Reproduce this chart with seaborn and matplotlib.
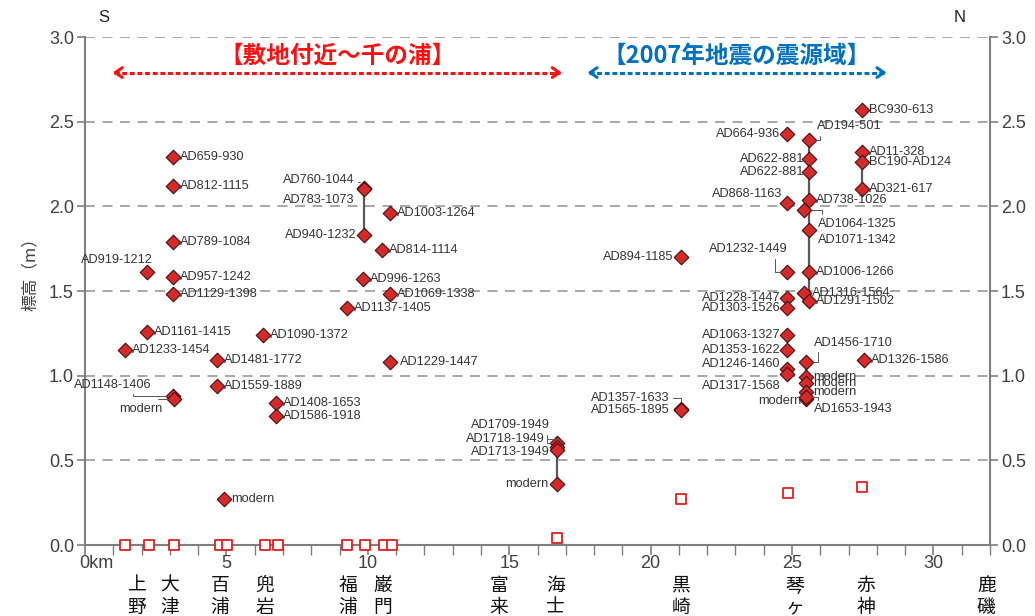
import numpy as np
import pandas as pd
import seaborn as sns
import matplotlib.pyplot as plt
from matplotlib import transforms

# --- data: distance along coast (km), elevation (m), age label, core group ---
pt_km = [3.11, 3.11, 3.11, 2.19, 3.11, 3.11, 2.19, 1.41, 4.66, 3.11, 3.13, 4.66, 6.29, 6.75, 6.75, 4.92,
         9.86, 9.86, 9.86, 10.78, 10.49, 9.82, 10.78, 9.26, 10.78,
         16.68, 16.68, 16.68, 16.68,
         21.06, 21.06, 21.06,
         24.83, 25.60, 25.60, 25.60, 24.83, 25.60, 25.42, 25.60, 24.83, 25.60, 25.42, 24.83, 25.60, 24.83,
         24.83, 24.83, 25.48, 24.83, 24.83, 25.48, 25.48, 25.48, 25.48, 25.48,
         27.49, 27.49, 27.49, 27.49, 27.55]
pt_elev = [2.29, 2.12, 1.79, 1.61, 1.58, 1.48, 1.26, 1.15, 1.09, 0.88, 0.865, 0.94, 1.24, 0.84, 0.76, 0.27,
           2.11, 2.10, 1.83, 1.96, 1.74, 1.57, 1.48, 1.40, 1.08,
           0.60, 0.58, 0.56, 0.36,
           1.70, 0.805, 0.795,
           2.43, 2.39, 2.28, 2.20, 2.02, 2.04, 1.98, 1.86, 1.61, 1.61, 1.49, 1.46, 1.44, 1.40,
           1.24, 1.15, 1.08, 1.04, 1.01, 0.99, 0.955, 0.905, 0.86, 0.875,
           2.57, 2.32, 2.26, 2.10, 1.09]
pt_age = ["AD659-930", "AD812-1115", "AD789-1084", "AD919-1212", "AD957-1242", "AD1129-1398",
          "AD1161-1415", "AD1233-1454", "AD1481-1772", "AD1148-1406", "modern", "AD1559-1889",
          "AD1090-1372", "AD1408-1653", "AD1586-1918", "modern",
          "AD760-1044", "AD783-1073", "AD940-1232", "AD1003-1264", "AD814-1114", "AD996-1263",
          "AD1069-1338", "AD1137-1405", "AD1229-1447",
          "AD1709-1949", "AD1718-1949", "AD1713-1949", "modern",
          "AD894-1185", "AD1357-1633", "AD1565-1895",
          "AD664-936", "AD194-501", "AD622-881", "AD622-881", "AD868-1163", "AD738-1026",
          "AD1064-1325", "AD1071-1342", "AD1232-1449", "AD1006-1266", "AD1316-1564",
          "AD1228-1447", "AD1291-1502", "AD1303-1526",
          "AD1063-1327", "AD1353-1622", "AD1456-1710", "AD1246-1460", "AD1317-1568",
          "modern", "modern", "modern", "modern", "AD1653-1943",
          "BC930-613", "AD11-328", "BC190-AD124", "AD321-617", "AD1326-1586"]
pt_core = [""] * 16 + ["A", "A", "A"] + [""] * 6 + ["B", "B", "B", "B"] + [""] * 3 + \
          ["", "C", "C", "C", "", "C", "", "C", "", "C", "C", "", "", ""] + \
          ["", "", "E", "", "", "E", "E", "E", "E", "E"] + ["", "D", "D", "D", ""]

# modern surface (open squares)
sq_km = [1.43, 2.25, 3.13, 4.76, 5.02, 6.38, 6.81, 9.28, 9.91, 10.58, 10.86, 16.68, 21.06, 24.84, 27.49]
sq_elev = [0, 0, 0, 0, 0, 0, 0, 0, 0, 0, 0, 0.04, 0.27, 0.31, 0.34]

place_names = ["上野", "大津", "百浦", "兜岩", "福浦", "巌門", "富来", "海士", "黒崎", "琴ヶ浜", "赤神", "鹿磯"]
place_km = [1.84, 3.0, 4.77, 6.36, 9.29, 10.53, 14.63, 16.64, 21.06, 25.09, 27.6, 31.87]

region_names = ["【敷地付近～千の浦】", "【2007年地震の震源域】"]
region_start = [0.88, 17.67]
region_end = [16.96, 28.44]
region_colors = ["#ff1010", "#0070c0"]

# label placement: px offset from point, alignment, leader (relpos, angleA, angleB) or None
R = (7, 0, "left", None)
L = (-7, 0, "right", None)
down_r = ((0.85, 0), 90, 0)      # leader leaves text bottom-right, goes down then across
down_l = ((0.05, 0), 90, 0)      # leader leaves text bottom-left
up_r = ((0.9, 1), 90, 0)
up_l = ((0.05, 1), 90, 0)
layout = [R, R, R, (6, 12, "right", None), R, R, R, R, R,
          (-21, 11, "right", ((0.75, 0), 90, 0)), (-11, -10, "right", up_r),
          R, R, R, R, R,
          (-9, 8, "right", ((1, 0.3), 0, 90)), (-9, -11, "right", None), (-7, 0, "right", None),
          R, R, R, R, R, (10, 0, "left", None),
          (-7, 18, "right", ((0.97, 0), 90, 0)), (-12, 8, "right", ((1, 0.5), 0, 90)),
          (-7, -2, "right", None), (-8, 0, "right", None),
          L, (-11, 11, "right", ((1, 0.5), 0, 90)), (-11, 0, "right", None),
          L, (8, 14, "left", down_l), (-5, 0, "right", None), (-5, 0, "right", None),
          (-5, 9, "right", ((0.95, 0), 90, 0)), R,
          (14, -14, "left", up_l), (9, -10, "left", None), (0, 23, "right", down_r), R, (8, 0, "left", None),
          L, R, L,
          L, L, (8, 19, "left", down_l), (-7, 5, "right", None), (-7, -12, "right", None),
          (8, 0, "left", None), (8, 0, "left", None), (8, 0, "left", None), (-4, -2, "right", None),
          (8, -12, "left", up_l),
          R, R, R, R, R]

pts = pd.DataFrame({"km": pt_km, "elev": pt_elev, "age": pt_age, "core": pt_core})
sq = pd.DataFrame({"km": sq_km, "elev": sq_elev})

sns.set_style("ticks")
plt.rcParams['font.family'] = ['Liberation Sans', 'Noto Sans CJK JP', 'DejaVu Sans']
cjk = ['Noto Sans CJK JP', 'DejaVu Sans']
grey = "#7f7f7f"

fig = plt.figure(figsize=(10.35, 6.16), dpi=100)
ax = fig.add_axes([85 / 1035, 71 / 616, 905 / 1035, 508 / 616])
ax.set_xlim(0, 32)
ax.set_ylim(0, 3.0)

# dashed grid
for yv in np.arange(0.5, 3.01, 0.5):
    ax.axhline(yv, color="#9a9a9a", lw=1.2, ls=(0, (6, 4.5)), zorder=1)

# core connecting lines
for name, g in pts[pts.core != ""].groupby("core"):
    ax.vlines(g.km.iloc[0], g.elev.min(), g.elev.max(), color="#5a5a5a", lw=1.6, zorder=2)

sns.scatterplot(data=pts, x="km", y="elev", marker="D", s=55, color="#d42a2a",
                edgecolor="#4a0d0d", linewidth=0.8, zorder=3, ax=ax, legend=False)
sns.scatterplot(data=sq, x="km", y="elev", marker="s", s=60, color="white",
                edgecolor="#e02020", linewidth=1.3, zorder=4, ax=ax, legend=False, clip_on=False)

for (x, y, lab), (dx, dy, ha, lead) in zip(pts[["km", "elev", "age"]].values, layout):
    kw = {}
    if lead:
        rp, a1, a2 = lead
        kw["arrowprops"] = dict(arrowstyle="-", color="#555555", lw=0.7, relpos=rp,
                                connectionstyle=f"angle,angleA={a1},angleB={a2},rad=0",
                                shrinkA=0, shrinkB=5)
    ax.annotate(lab, xy=(x, y), xytext=(dx * 0.72, dy * 0.72), textcoords="offset points",
                ha=ha, va="center", fontsize=9.2, color="#333333", zorder=5, **kw)

# region arrows and titles
for name, a, b, c in zip(region_names, region_start, region_end, region_colors):
    ax.plot([a + 0.15, b - 0.15], [2.79, 2.79], color=c, lw=2.2, ls=(0, (1.6, 0.9)), zorder=5)
    ax.annotate("", xy=(a, 2.79), xytext=(a + 0.4, 2.79),
                arrowprops=dict(arrowstyle="->,head_length=0.5,head_width=0.35", color=c, lw=2.2))
    ax.annotate("", xy=(b, 2.79), xytext=(b - 0.4, 2.79),
                arrowprops=dict(arrowstyle="->,head_length=0.5,head_width=0.35", color=c, lw=2.2))
    ax.text((a + b) / 2, 2.89, name, color=c, fontsize=17, fontweight="bold",
            family=cjk, ha="center", va="center")

# axes styling
sns.despine(ax=ax, top=True, right=False)
for s in ["left", "right", "bottom"]:
    ax.spines[s].set_color(grey)
    ax.spines[s].set_linewidth(1.5)

yt = np.arange(0, 3.01, 0.5)
ax.set_yticks(yt)
ax.set_yticklabels([f"{v:.1f}" for v in yt])
ax.tick_params(axis="y", left=True, right=True, labelleft=True, labelright=True,
               length=6, width=1.2, color=grey, labelsize=13, labelcolor="#404040", pad=2)
ax.set_xticks(np.arange(0, 31, 5))
ax.set_xticklabels(["0km", "5", "10", "15", "20", "25", "30"])
ax.set_xticks(np.arange(0, 33, 1), minor=True)
ax.tick_params(axis="x", which="major", length=7, width=1.2, color=grey,
               labelsize=13, labelcolor="#404040", pad=0.5)
ax.tick_params(axis="x", which="minor", length=7, width=1.0, color=grey)
lab0 = ax.get_xticklabels()[0]
lab0.set_ha("left")
lab0.set_transform(lab0.get_transform() + transforms.ScaledTranslation(-6 / 100, 0, fig.dpi_scale_trans))
ax.set_xlabel("")
ax.set_ylabel("")

# place names under the axis
trans = transforms.blended_transform_factory(ax.transData, fig.transFigure)
for name, x in zip(place_names, place_km):
    ax.text(x, 1 - 575 / 616, "\n".join(name), transform=trans, ha="center", va="top",
            fontsize=13.5, family=cjk, linespacing=1.05, color="#111111")

fig.text(104 / 1035, 1 - 18 / 616, "S", fontsize=12, ha="center", va="center", color="#222222")
fig.text(960 / 1035, 1 - 18 / 616, "N", fontsize=12, ha="center", va="center", color="#222222")
fig.text(30 / 1035, 1 - 270 / 616, "標高（m）", rotation=90, fontsize=12, family=cjk,
         ha="center", va="center", color="#404040")

fig.savefig("out.png", dpi=100)
